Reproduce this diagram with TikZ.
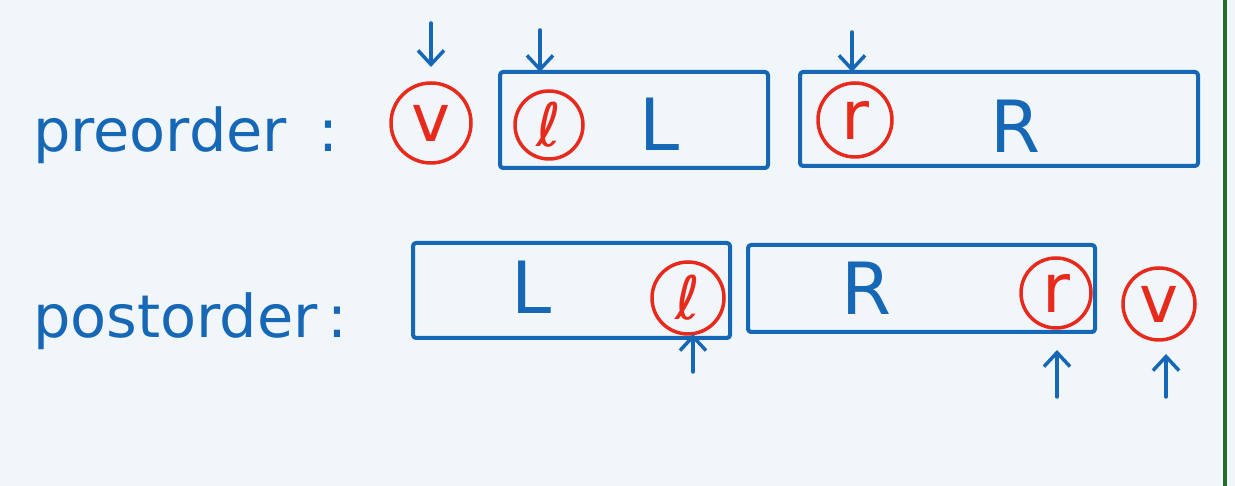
\documentclass[tikz,border=0pt]{standalone}
\usepackage{fontspec}
\setmainfont{DejaVu Sans}
\usetikzlibrary{arrows.meta}
\begin{document}
\begin{tikzpicture}[x=1pt,y=1pt,
  part/.style={rectangle,draw=inkColor,line width= 4.0pt,line join=round,rounded corners=3pt,inner sep=0pt,outer sep=0pt},
  root/.style={circle,draw=redColor,line width= 3.5pt,text=redColor,inner sep=0pt,outer sep=0pt},
  ptr/.style={draw=inkColor,line width= 3.5pt,line cap=round,-{Straight Barb[length=14pt,width=26pt]}},
  word/.style={text=inkColor,anchor=base west,inner sep=0pt,outer sep=0pt,font=\fontsize{59}{59}\selectfont},
  letter/.style={text=inkColor,inner sep=0pt,outer sep=0pt,font=\fontsize{72}{72}\selectfont}]
\definecolor{fillColor}{RGB}{241,246,251}
\path[use as bounding box,fill=fillColor] (0,0) rectangle (1235,486);
\definecolor{drawColor}{RGB}{35,110,40}

\path[draw=drawColor,line width= 4.0pt] (1225.00,  0.00) --
	(1225.00,486.00);
\definecolor{inkColor}{RGB}{22,104,182}
\definecolor{redColor}{RGB}{232,42,28}

% row labels
\node[word] (pre) at ( 33.00,334.00) {preorder\hspace{32pt}:};

\node[word] (post) at ( 33.00,148.00) {postorder\hspace{10pt}:};

% preorder: v, then L, then R
\node[part,minimum width=268pt,minimum height=96pt] (Lpre) at (634.00,366.00) {};

\node[part,minimum width=398pt,minimum height=94pt] (Rpre) at (999.00,367.00) {};

\node[root,minimum size=80pt,font=\fontsize{66}{66}\selectfont] (vpre) at (431.00,363.00) {v};

\node[root,minimum size=68pt,font=\fontsize{60}{60}\selectfont] (lpre) at (549.00,361.00) {ℓ};

\node[root,minimum size=74pt,font=\fontsize{68}{68}\selectfont] (rpre) at (855.00,366.00) {r};

\node[letter] (Lpre-name) at (660.00,362.00) {L};

\node[letter] (Rpre-name) at (1016.00,360.00) {R};

\coordinate (vpre-tail) at (431.00,463.00);
\coordinate (lpre-tail) at (540.00,456.00);
\coordinate (rpre-tail) at (852.00,454.00);

\path[ptr,shorten >=16pt] (vpre-tail) -- (vpre.north);

\path[ptr] (lpre-tail) -- (lpre-tail |- Lpre.north);

\path[ptr] (rpre-tail) -- (rpre-tail |- Rpre.north);

% postorder: L, then R, then v
\node[part,minimum width=317pt,minimum height=95pt] (Lpost) at (571.50,195.50) {};

\node[part,minimum width=347pt,minimum height=87pt] (Rpost) at (921.50,197.50) {};

\node[root,minimum size=72pt,font=\fontsize{60}{60}\selectfont] (lpost) at (688.00,188.00) {ℓ};

\node[root,minimum size=70pt,font=\fontsize{68}{68}\selectfont] (rpost) at (1056.00,193.00) {r};

\node[root,minimum size=72pt,font=\fontsize{66}{66}\selectfont] (vpost) at (1159.00,182.00) {v};

\node[letter] (Lpost-name) at (532.00,199.00) {L};

\node[letter] (Rpost-name) at (867.00,198.00) {R};

\coordinate (lpost-tail) at (693.00,114.00);
\coordinate (rpost-tail) at (1057.00, 89.00);
\coordinate (vpost-tail) at (1166.00, 89.00);

\path[ptr] (lpost-tail) -- (lpost-tail |- lpost.south);

\path[ptr,shorten >=22pt] (rpost-tail) -- (rpost-tail |- rpost.south);

\path[ptr,shorten >=14pt] (vpost-tail) -- (vpost-tail |- vpost.south);
\end{tikzpicture}
\end{document}
